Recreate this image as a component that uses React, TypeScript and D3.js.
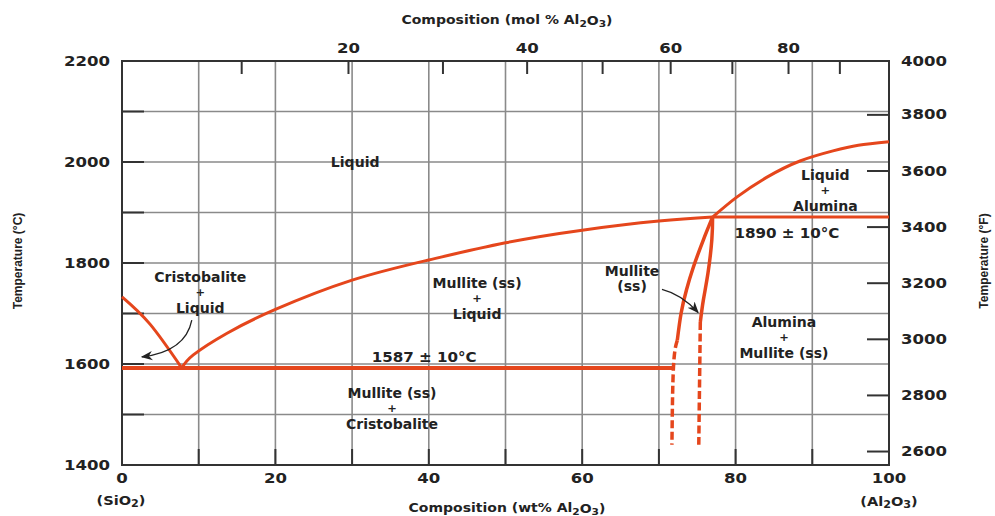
import * as d3 from "d3";

// composition axis (wt% Al2O3) and temperature (°C)
const wtMajor = [0, 20, 40, 60, 80, 100];
const wtGrid = [10, 20, 30, 40, 50, 60, 70, 80, 90];
const cLabels = [1400, 1600, 1800, 2000, 2200];
const cTicks = [1500, 1600, 1700, 1800, 1900, 2000, 2100];
const fLabels = [2600, 2800, 3000, 3200, 3400, 3600, 3800, 4000];
const molTicks = [10, 20, 30, 40, 50, 60, 70, 80, 90];
const molLabels = [20, 40, 60, 80];

// phase boundaries, [wt% Al2O3, °C]
const cristobaliteLiquidus: [number, number][] = [
  [0, 1733], [3.65, 1679], [7.8, 1592],
];
const mulliteLiquidus: [number, number][] = [
  [7.8, 1592], [9.3, 1618], [13.7, 1661], [20, 1708], [30, 1766],
  [40, 1806], [50, 1840], [60, 1865], [70, 1883], [77, 1891],
];
const aluminaLiquidus: [number, number][] = [
  [77, 1891], [80.2, 1931], [84.1, 1970], [88.4, 2002], [92.7, 2022], [96, 2033], [100, 2040],
];
const eutectic: [number, number][] = [[0, 1592], [71.9, 1592]];
const peritectic: [number, number][] = [[77, 1891], [100, 1891]];
const mulliteLeft: [number, number][] = [
  [77, 1891], [75.8, 1846], [74.5, 1792], [73.6, 1747], [72.9, 1701], [72.4, 1647],
];
const mulliteLeftDash: [number, number][] = [[72.4, 1647], [71.9, 1594], [71.7, 1440]];
const mulliteRight: [number, number][] = [
  [77, 1891], [76.9, 1846], [76.4, 1780], [75.8, 1727], [75.4, 1683],
];
const mulliteRightDash: [number, number][] = [[75.4, 1683], [75.2, 1440]];

// region labels: [wt%, °C of first line, lines]
const regionLabels: { x: number; y: number; lines: string[] }[] = [
  { x: 30.4, y: 2000, lines: ["Liquid"] },
  { x: 10.2, y: 1772, lines: ["Cristobalite", "+", "Liquid"] },
  { x: 46.3, y: 1760, lines: ["Mullite (ss)", "+", "Liquid"] },
  { x: 66.5, y: 1784, lines: ["Mullite", "(ss)"] },
  { x: 35.2, y: 1543, lines: ["Mullite (ss)", "+", "Cristobalite"] },
  { x: 91.7, y: 1974, lines: ["Liquid", "+", "Alumina"] },
  { x: 86.3, y: 1683, lines: ["Alumina", "+", "Mullite (ss)"] },
];
const tempLabels: { x: number; y: number; text: string }[] = [
  { x: 39.4, y: 1614, text: "1587 ± 10°C" },
  { x: 86.7, y: 1859, text: "1890 ± 10°C" },
];
// arrows: start, control, end in [wt%, °C]
const arrows: [number, number][][] = [
  [[9.1, 1687], [8.3, 1625], [2.6, 1614]],
  [[70.4, 1748], [73, 1738], [75.1, 1702]],
];

const W = 995;
const H = 516;
const RED = "#e5461c";
const FONT = "DejaVu Sans";

const x = d3.scaleLinear().domain([0, 100]).range([122, 889]);
const y = d3.scaleLinear().domain([1400, 2200]).range([465, 61]);
const fToC = (f: number) => ((f - 32) * 5) / 9;
const molToWt = (m: number) => (m * 101.96 * 100) / (m * 101.96 + (100 - m) * 60.08);

const curve = d3
  .line<[number, number]>()
  .x((d) => x(d[0]))
  .y((d) => y(d[1]))
  .curve(d3.curveNatural);
const straight = d3
  .line<[number, number]>()
  .x((d) => x(d[0]))
  .y((d) => y(d[1]));

const Txt = ({ px, py, size, sx = 1, anchor = "middle", children }: any) => (
  <text
    transform={`translate(${px},${py}) scale(${sx},1)`}
    fontSize={size}
    fontFamily={FONT}
    fontWeight="bold"
    textAnchor={anchor}
    dominantBaseline="central"
    fill="#222"
  >
    {children}
  </text>
);

export default function App() {
  return (
    <svg width={W} height={H} style={{ position: "absolute", left: 0, top: 0, background: "#fff" }}>
      <defs>
        <marker id="ah" viewBox="0 0 10 10" refX="9" refY="5" markerWidth="9" markerHeight="9" orient="auto">
          <path d="M0,1 L10,5 L0,9 L3,5 Z" fill="#222" />
        </marker>
      </defs>
      <rect width={W} height={H} fill="#fff" />

      {/* grid */}
      {wtGrid.map((v) => (
        <line key={"gx" + v} x1={x(v)} x2={x(v)} y1={y(2200)} y2={y(1400)} stroke="#8a8a8a" strokeWidth={1.6} />
      ))}
      {cTicks.map((v) => (
        <line key={"gy" + v} x1={x(0)} x2={x(100)} y1={y(v)} y2={y(v)} stroke="#8a8a8a" strokeWidth={1.6} />
      ))}

      {/* frame */}
      <rect x={x(0)} y={y(2200)} width={x(100) - x(0)} height={y(1400) - y(2200)} fill="none" stroke="#333" strokeWidth={2} />

      {/* left ticks */}
      {cTicks.map((v) => (
        <line key={"lt" + v} x1={x(0)} x2={x(0) + 22} y1={y(v)} y2={y(v)} stroke="#333" strokeWidth={2} />
      ))}
      {cLabels.map((v) => (
        <Txt key={"ll" + v} px={110} py={y(v)} size={14} sx={1.18} anchor="end">{v}</Txt>
      ))}

      {/* right ticks (°F) */}
      {fLabels.map((v) => (
        <g key={"rf" + v}>
          {v < 4000 && <line x1={x(100) - 22} x2={x(100)} y1={y(fToC(v))} y2={y(fToC(v))} stroke="#333" strokeWidth={2} />}
          <Txt px={901} py={Math.max(y(fToC(v)), 61)} size={14} sx={1.18} anchor="start">{v}</Txt>
        </g>
      ))}

      {/* bottom ticks */}
      {wtGrid.map((v) => (
        <line key={"bt" + v} x1={x(v)} x2={x(v)} y1={y(1400)} y2={y(1400) - 16} stroke="#333" strokeWidth={2} />
      ))}
      {wtMajor.map((v) => (
        <Txt key={"bl" + v} px={x(v)} py={478} size={14} sx={1.18}>{v}</Txt>
      ))}

      {/* top ticks (mol%) */}
      {molTicks.map((v) => (
        <line key={"tt" + v} x1={x(molToWt(v)) - 2} x2={x(molToWt(v)) - 2} y1={y(2200)} y2={y(2200) + 13} stroke="#333" strokeWidth={2} />
      ))}
      {molLabels.map((v) => (
        <Txt key={"tl" + v} px={x(molToWt(v)) - 2} py={48} size={14} sx={1.18}>{v}</Txt>
      ))}

      {/* axis titles */}
      <Txt px={507} py={20} size={12.5} sx={1.12}>
        Composition (mol % Al<tspan dy="3" fontSize="9.5">2</tspan><tspan dy="-3">O</tspan><tspan dy="3" fontSize="9.5">3</tspan><tspan dy="-3">)</tspan>
      </Txt>
      <Txt px={507} py={508} size={12.5} sx={1.12}>
        Composition (wt% Al<tspan dy="3" fontSize="9.5">2</tspan><tspan dy="-3">O</tspan><tspan dy="3" fontSize="9.5">3</tspan><tspan dy="-3">)</tspan>
      </Txt>
      <Txt px={121} py={500} size={13} sx={1.12}>
        (SiO<tspan dy="3" fontSize="10">2</tspan><tspan dy="-3">)</tspan>
      </Txt>
      <Txt px={889} py={501} size={13} sx={1.12}>
        (Al<tspan dy="3" fontSize="10">2</tspan><tspan dy="-3">O</tspan><tspan dy="3" fontSize="10">3</tspan><tspan dy="-3">)</tspan>
      </Txt>
      <text transform="translate(18,261) rotate(-90)" fontSize={12} fontFamily="Liberation Sans" fontWeight="bold" textAnchor="middle" dominantBaseline="central" fill="#222">
        Temperature (°C)
      </text>
      <text transform="translate(984,261) rotate(-90)" fontSize={12} fontFamily="Liberation Sans" fontWeight="bold" textAnchor="middle" dominantBaseline="central" fill="#222">
        Temperature (°F)
      </text>

      {/* phase boundaries */}
      <path d={straight(eutectic) ?? ""} fill="none" stroke={RED} strokeWidth={4} />
      <path d={straight(peritectic) ?? ""} fill="none" stroke={RED} strokeWidth={3} />
      <path d={curve(cristobaliteLiquidus) ?? ""} fill="none" stroke={RED} strokeWidth={3} />
      <path d={curve(mulliteLiquidus) ?? ""} fill="none" stroke={RED} strokeWidth={3} />
      <path d={curve(aluminaLiquidus) ?? ""} fill="none" stroke={RED} strokeWidth={3} />
      <path d={curve(mulliteLeft) ?? ""} fill="none" stroke={RED} strokeWidth={3.5} />
      <path d={curve(mulliteRight) ?? ""} fill="none" stroke={RED} strokeWidth={3.5} />
      <path d={curve(mulliteLeftDash) ?? ""} fill="none" stroke={RED} strokeWidth={3.5} strokeDasharray="8 3.5" />
      <path d={straight(mulliteRightDash) ?? ""} fill="none" stroke={RED} strokeWidth={3.5} strokeDasharray="8 3.5" />

      {/* arrows */}
      {arrows.map((a, i) => (
        <path
          key={"ar" + i}
          d={`M${x(a[0][0])},${y(a[0][1])} Q${x(a[1][0])},${y(a[1][1])} ${x(a[2][0])},${y(a[2][1])}`}
          fill="none"
          stroke="#222"
          strokeWidth={1.3}
          markerEnd="url(#ah)"
        />
      ))}

      {/* labels */}
      {regionLabels.map((r, i) =>
        r.lines.map((t, j) => (
          <Txt key={"r" + i + "-" + j} px={x(r.x)} py={y(r.y) + j * 15.5} size={t === "+" ? 11 : 13.5} sx={1.04}>
            {t}
          </Txt>
        ))
      )}
      {tempLabels.map((t, i) => (
        <Txt key={"t" + i} px={x(t.x)} py={y(t.y)} size={14} sx={1.08}>{t.text}</Txt>
      ))}
    </svg>
  );
}
